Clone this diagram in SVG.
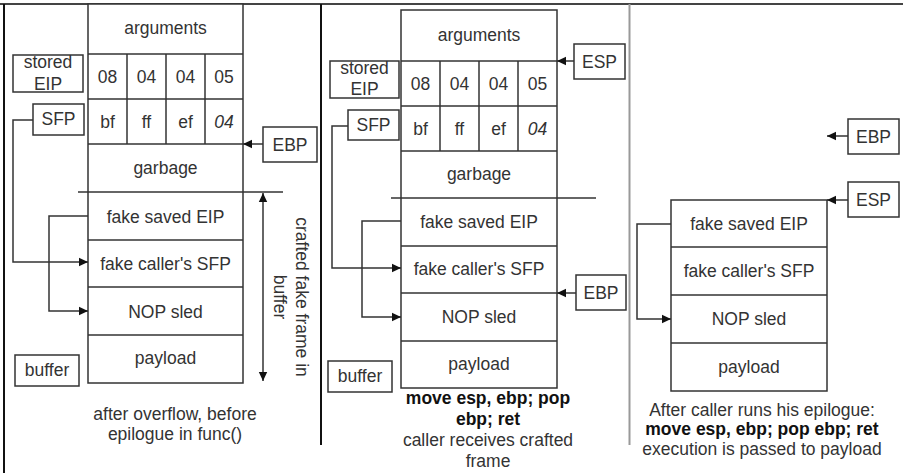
<svg xmlns="http://www.w3.org/2000/svg" width="903" height="473" viewBox="0 0 903 473">
<defs>
<marker id="ah" markerWidth="10" markerHeight="10" refX="9" refY="5" orient="auto" markerUnits="userSpaceOnUse">
<path d="M0,0.8 L9,5 L0,9.2 Z" fill="#111"/>
</marker>
<style>
.box{fill:#fff;stroke:#333;stroke-width:1.5}
.ln{fill:none;stroke:#333;stroke-width:1.5}
.con{fill:none;stroke:#333;stroke-width:1.5}
text{font-family:"Liberation Sans",Arial,sans-serif;font-size:17.5px;fill:#333;text-anchor:middle}
.b{font-weight:bold;fill:#111}
.i{font-style:italic}
</style>
</defs>
<rect width="903" height="473" fill="#fff"/>
<g id="frame">
<line x1="0" y1="4" x2="903" y2="4" stroke="#444" stroke-width="2"/>
<line x1="4" y1="4" x2="4" y2="473" stroke="#111" stroke-width="2"/>
<line x1="321" y1="4" x2="321" y2="445" stroke="#111" stroke-width="2"/>
<line x1="629.5" y1="4" x2="629.5" y2="445" stroke="#999" stroke-width="2"/>
</g>

<!-- LEFT PANEL -->
<g id="left-stack">
<rect class="box" x="88" y="4" width="155" height="379"/>
<line class="ln" x1="88" y1="54" x2="243" y2="54"/>
<line class="ln" x1="88" y1="99" x2="243" y2="99"/>
<line class="ln" x1="88" y1="144" x2="243" y2="144"/>
<line class="ln" x1="78" y1="192" x2="283" y2="192"/>
<line class="ln" x1="88" y1="240" x2="243" y2="240"/>
<line class="ln" x1="88" y1="287" x2="243" y2="287"/>
<line class="ln" x1="88" y1="335" x2="243" y2="335"/>
<line class="ln" x1="127" y1="54" x2="127" y2="144"/>
<line class="ln" x1="166" y1="54" x2="166" y2="144"/>
<line class="ln" x1="205" y1="54" x2="205" y2="144"/>
<text x="165.5" y="34">arguments</text>
<text x="107.5" y="83">08</text><text x="146.5" y="83">04</text><text x="185.5" y="83">04</text><text x="224" y="83">05</text>
<text x="107.5" y="128">bf</text><text x="146.5" y="128">ff</text><text x="185.5" y="128">ef</text><text class="i" x="224" y="128">04</text>
<text x="165.5" y="174">garbage</text>
<text x="165.5" y="223">fake saved EIP</text>
<text x="165.5" y="270">fake caller's SFP</text>
<text x="165.5" y="318">NOP sled</text>
<text x="165.5" y="364">payload</text>
</g>
<g id="left-stored-eip"><rect class="box" x="13" y="55" width="70" height="37"/><text x="48" y="68">stored</text><text x="48" y="90">EIP</text></g>
<g id="left-sfp"><rect class="box" x="33" y="104" width="51" height="31"/><text x="58.5" y="125">SFP</text></g>
<g id="left-ebp"><rect class="box" x="263" y="127" width="54" height="35"/><text x="290" y="151">EBP</text></g>
<g id="left-buffer"><rect class="box" x="15" y="355" width="64" height="31"/><text x="47" y="376">buffer</text></g>
<g id="left-crafted">
<text transform="translate(296,297) rotate(90)">crafted fake frame in</text>
<text transform="translate(274,297) rotate(90)">buffer</text>
</g>
<g id="left-caption"><text x="175" y="420">after overflow, before</text><text x="175" y="440">epilogue in func()</text></g>

<!-- MIDDLE PANEL -->
<g id="mid-stack">
<rect class="box" x="401" y="10" width="156" height="378"/>
<line class="ln" x1="401" y1="61" x2="557" y2="61"/>
<line class="ln" x1="401" y1="106" x2="557" y2="106"/>
<line class="ln" x1="401" y1="151" x2="557" y2="151"/>
<line class="ln" x1="391" y1="198" x2="596" y2="198"/>
<line class="ln" x1="401" y1="246" x2="557" y2="246"/>
<line class="ln" x1="401" y1="293" x2="557" y2="293"/>
<line class="ln" x1="401" y1="341" x2="557" y2="341"/>
<line class="ln" x1="440" y1="61" x2="440" y2="151"/>
<line class="ln" x1="479" y1="61" x2="479" y2="151"/>
<line class="ln" x1="518" y1="61" x2="518" y2="151"/>
<text x="479" y="41">arguments</text>
<text x="420.5" y="90">08</text><text x="459.5" y="90">04</text><text x="498.5" y="90">04</text><text x="537.5" y="90">05</text>
<text x="420.5" y="135">bf</text><text x="459.5" y="135">ff</text><text x="498.5" y="135">ef</text><text class="i" x="537.5" y="135">04</text>
<text x="479" y="180">garbage</text>
<text x="479" y="228">fake saved EIP</text>
<text x="479" y="275">fake caller's SFP</text>
<text x="479" y="323">NOP sled</text>
<text x="479" y="370">payload</text>
</g>
<g id="mid-stored-eip"><rect class="box" x="330" y="61" width="69" height="37"/><text x="364.5" y="74">stored</text><text x="364.5" y="95">EIP</text></g>
<g id="mid-sfp"><rect class="box" x="348" y="110" width="51" height="30"/><text x="373.5" y="131">SFP</text></g>
<g id="mid-esp"><rect class="box" x="574" y="44" width="51" height="35"/><text x="599.5" y="68">ESP</text></g>
<g id="mid-ebp"><rect class="box" x="576" y="275" width="50" height="35"/><text x="601" y="299">EBP</text></g>
<g id="mid-buffer"><rect class="box" x="328" y="361" width="64" height="31"/><text x="360" y="382">buffer</text></g>
<g id="mid-caption">
<text class="b" x="488" y="404">move esp, ebp; pop</text>
<text class="b" x="488" y="425">ebp; ret</text>
<text x="488" y="446">caller receives crafted</text>
<text x="488" y="467">frame</text>
</g>

<!-- RIGHT PANEL -->
<g id="right-stack">
<rect class="box" x="671" y="200" width="156" height="191"/>
<line class="ln" x1="671" y1="247" x2="827" y2="247"/>
<line class="ln" x1="671" y1="295" x2="827" y2="295"/>
<line class="ln" x1="671" y1="343" x2="827" y2="343"/>
<text x="749" y="230">fake saved EIP</text>
<text x="749" y="277">fake caller's SFP</text>
<text x="749" y="325">NOP sled</text>
<text x="749" y="373">payload</text>
</g>
<g id="right-ebp"><rect class="box" x="848" y="119" width="51" height="35"/><text x="873.5" y="143">EBP</text></g>
<g id="right-esp"><rect class="box" x="848" y="182" width="51" height="35"/><text x="873.5" y="206">ESP</text></g>
<g id="right-caption">
<text x="762" y="416">After caller runs his epilogue:</text>
<text class="b" x="762" y="435">move esp, ebp; pop ebp; ret</text>
<text x="762" y="455">execution is passed to payload</text>
</g>

<g id="connectors">
<line class="con" x1="263" y1="144" x2="243" y2="144" marker-end="url(#ah)"/>
<path class="con" d="M33,120 H13 V262 H88" marker-end="url(#ah)"/>
<path class="con" d="M88,216 H49 V311 H88" marker-end="url(#ah)"/>
<line class="con" x1="263" y1="290" x2="263" y2="193" marker-end="url(#ah)"/>
<line class="con" x1="263" y1="290" x2="263" y2="381" marker-end="url(#ah)"/>
<line class="con" x1="574" y1="61" x2="557" y2="61" marker-end="url(#ah)"/>
<line class="con" x1="576" y1="293" x2="557" y2="293" marker-end="url(#ah)"/>
<path class="con" d="M348,126 H332 V268 H401" marker-end="url(#ah)"/>
<path class="con" d="M401,221 H362 V317 H401" marker-end="url(#ah)"/>
<line class="con" x1="848" y1="136" x2="827" y2="136" marker-end="url(#ah)"/>
<line class="con" x1="848" y1="200" x2="827" y2="200" marker-end="url(#ah)"/>
<path class="con" d="M671,224 H637 V319 H671" marker-end="url(#ah)"/>
</g>
</svg>
